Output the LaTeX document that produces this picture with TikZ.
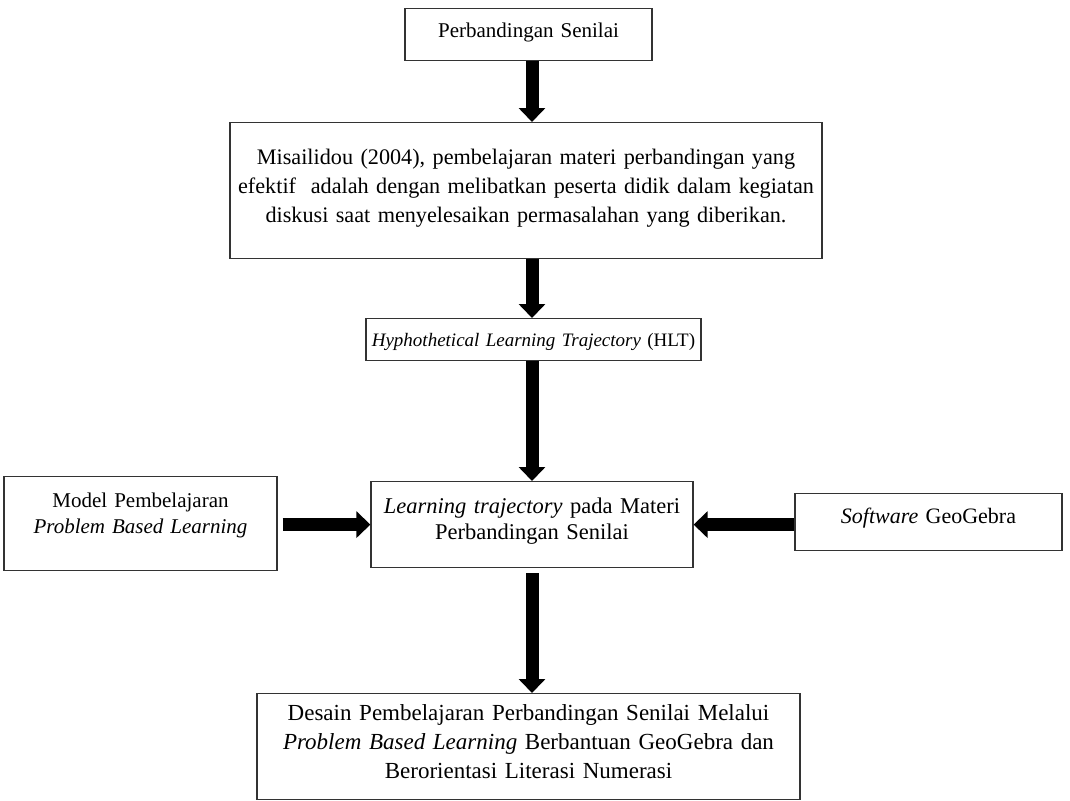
\documentclass[tikz,border=0pt]{standalone}
\usepackage{fontspec}
\setmainfont{Liberation Serif}
\usetikzlibrary{arrows.meta}
\hyphenpenalty=10000
\exhyphenpenalty=10000

\begin{document}
\begin{tikzpicture}[x=1pt,y=-1pt,
  box/.style={draw=black!80,line width=1.2pt,anchor=north,inner sep=0pt,align=center,
    font=\fontsize{23}{29}\selectfont},
  cam/.style={font=\fontsize{21}{26}\selectfont},
  blk/.style={line width=13pt,-{Triangle[width=26pt,length=14pt]}}]
  \useasboundingbox (0,0) rectangle (1070,800);
  \coordinate (axis) at (532,0); % all the down arrows sit on this x
  % middle column, top to bottom
  \node[box,cam,text width=247pt,text height=29pt,text depth=23pt] (topic) at (528.5,8) {Perbandingan Senilai};
  \node[box,font=\fontsize{22.2}{29}\selectfont,text width=592pt,text height=42pt,text depth=94pt] (misa) at (526,122)
    {Misailidou (2004), pembelajaran materi perbandingan yang\\
     efektif~ adalah dengan melibatkan peserta didik dalam kegiatan\\
     diskusi saat menyelesaikan permasalahan yang diberikan.};
  \node[box,font=\fontsize{19}{24}\selectfont,text width=335pt,text height=28pt,text depth=14pt] (hlt) at (533.5,318)
    {\textit{Hyphothetical Learning Trajectory} (HLT)};
  \node[box,font=\fontsize{22.5}{26}\selectfont,text width=322pt,text height=32pt,text depth=54pt] (lt) at (532,481)
    {\textit{Learning trajectory} pada Materi\\ Perbandingan Senilai};
  \node[box,text width=543pt,text height=27pt,text depth=79pt] (desain) at (528.5,693)
    {Desain Pembelajaran Perbandingan Senilai Melalui\\
     \textit{Problem Based Learning} Berbantuan GeoGebra dan\\
     Berorientasi Literasi Numerasi};
  % side boxes
  \node[box,cam,text width=273pt,text height=31pt,text depth=63pt] (pbl) at (140.5,476)
    {Model Pembelajaran\\ \textit{Problem Based Learning}};
  \node[box,font=\fontsize{22}{26}\selectfont,text width=267pt,text height=30pt,text depth=27pt] (geo) at (928.5,493)
    {\textit{Software} GeoGebra};
  % arrows
  \foreach \a/\b in {topic/misa,misa/hlt,hlt/lt} { %straight down
    \draw[blk] (\a.south -| axis) -- (\b.north -| axis);
  }
  \draw[blk,shorten <=5pt] (lt.south -| axis) -- (desain.north -| axis);
  \draw[blk,shorten <=5pt] (pbl.east |- lt.west) -- (lt.west);
  \draw[blk] (geo.west |- lt.east) -- (lt.east);
\end{tikzpicture}
\end{document}
